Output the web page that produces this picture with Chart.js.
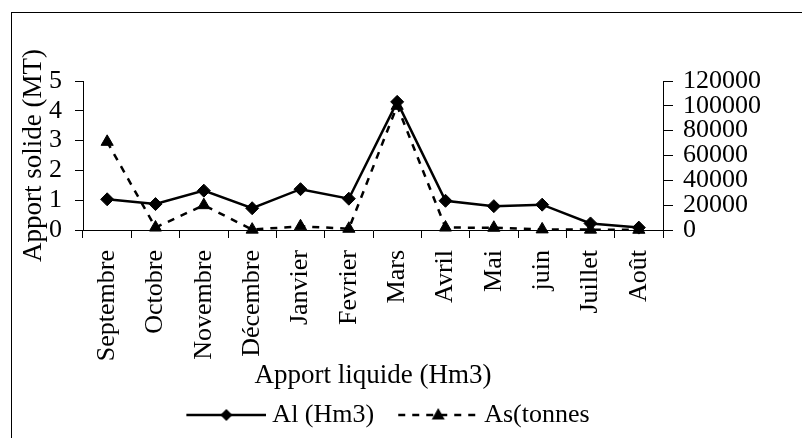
<!DOCTYPE html>
<html>
<head>
<meta charset="utf-8">
<script src="https://cdn.jsdelivr.net/npm/chart.js@4/dist/chart.umd.min.js"></script>
<style>
  html, body { margin: 0; padding: 0; background: #fff; overflow: hidden; }
  #wrap { position: relative; width: 802px; height: 438px; }
  #frame { position: absolute; left: 11px; top: 12px; width: 840px; height: 480px; border-left: 1px solid #000; border-top: 1px solid #000; pointer-events: none; }
</style>
</head>
<body>
<div id="wrap"><canvas id="myChart" width="802" height="438"></canvas><div id="frame"></div></div>
<script>
// months (hydrological year)
const months = ['Septembre', 'Octobre', 'Novembre', 'Décembre', 'Janvier', 'Fevrier',
  'Mars', 'Avril', 'Mai', 'juin', 'Juillet', 'Août'];
// Al (Hm3) - left axis
const alValues = [1.03, 0.87, 1.32, 0.73, 1.37, 1.05, 4.3, 0.98, 0.80, 0.85, 0.22, 0.08];
// As (tonnes) - right axis
const asValues = [71000, 2000, 20000, 300, 3000, 1000, 100000, 2000, 1800, 500, 300, 200];
const leftTicks = [0, 1, 2, 3, 4, 5];
const rightTicks = [0, 20000, 40000, 60000, 80000, 100000, 120000];

Chart.defaults.font.family = "'Liberation Serif', 'Times New Roman', serif";
Chart.defaults.color = '#000';

// legend swatch: line + marker drawn into a small canvas
function legendIcon(dash, marker) {
  const c = document.createElement('canvas');
  c.width = 101; c.height = 18;
  const g = c.getContext('2d');
  g.strokeStyle = '#000'; g.fillStyle = '#000'; g.lineWidth = 2.5;
  g.setLineDash(dash);
  g.beginPath(); g.moveTo(21, 9); g.lineTo(101, 9); g.stroke();
  g.setLineDash([]);
  const cx = 61, cy = 9;
  g.beginPath();
  if (marker === 'diamond') {
    g.moveTo(cx, cy - 6); g.lineTo(cx + 6, cy); g.lineTo(cx, cy + 6); g.lineTo(cx - 6, cy);
  } else {
    g.moveTo(cx, cy - 7); g.lineTo(cx + 6.5, cy + 4.5); g.lineTo(cx - 6.5, cy + 4.5);
  }
  g.closePath(); g.fill();
  return c;
}
const icons = [legendIcon([], 'diamond'), legendIcon([7, 7], 'triangle')];

const ctx = document.getElementById('myChart').getContext('2d');
const chart = new Chart(ctx, {
  type: 'line',
  data: {
    labels: months,
    datasets: [
      {
        label: 'Al (Hm3)',
        data: alValues,
        yAxisID: 'y',
        borderColor: '#000',
        backgroundColor: '#000',
        borderWidth: 2.5,
        pointStyle: 'rectRot',
        pointRadius: 6.5,
        pointBorderWidth: 1,
        tension: 0,
        clip: false
      },
      {
        label: 'As(tonnes',
        data: asValues,
        yAxisID: 'y1',
        borderColor: '#000',
        backgroundColor: '#000',
        borderWidth: 2.5,
        borderDash: [7, 7],
        pointStyle: 'triangle',
        pointRadius: 7,
        pointBorderWidth: 1,
        tension: 0,
        clip: false
      }
    ]
  },
  options: {
    responsive: false,
    animation: false,
    layout: { padding: { left: 0, right: 40, top: 81, bottom: 0 } },
    plugins: {
      tooltip: { enabled: false },
      legend: {
        position: 'bottom',
        labels: {
          usePointStyle: true,
          pointStyleWidth: 87,
          padding: 10,
          font: { size: 26 },
          color: '#000',
          generateLabels: (ch) => Chart.defaults.plugins.legend.labels.generateLabels(ch)
            .map((l, i) => Object.assign(l, { pointStyle: icons[i] }))
        }
      }
    },
    scales: {
      x: {
        offset: true,
        grid: { display: true, offset: true, drawOnChartArea: false, drawTicks: true, tickLength: 8, color: '#000' },
        border: { display: true, color: '#000', width: 1 },
        ticks: { autoSkip: false, minRotation: 90, maxRotation: 90, padding: 12, font: { size: 26 } },
        title: { display: true, text: 'Apport liquide (Hm3)', font: { size: 27 }, padding: { top: 0, bottom: 0 } },
        afterFit: (s) => { s.height = 162; }
      },
      y: {
        position: 'left',
        min: leftTicks[0],
        max: leftTicks[leftTicks.length - 1],
        ticks: { autoSkip: false, stepSize: leftTicks[1] - leftTicks[0], padding: 13, font: { size: 26 } },
        grid: { drawOnChartArea: false, drawTicks: true, tickLength: 8, color: '#000' },
        border: { display: true, color: '#000', width: 1 },
        title: { display: true, text: 'Apport solide (MT)', font: { size: 27 }, padding: { top: 18, bottom: 0 } },
        afterFit: (s) => { s.width = 83; }
      },
      y1: {
        position: 'right',
        min: rightTicks[0],
        max: rightTicks[rightTicks.length - 1],
        ticks: { autoSkip: false, stepSize: rightTicks[1] - rightTicks[0], padding: 10, font: { size: 26 }, callback: (v) => String(v) },
        grid: { drawOnChartArea: false, drawTicks: true, tickLength: 10, color: '#000' },
        border: { display: true, color: '#000', width: 1 },
        afterFit: (s) => { s.width = 99; }
      }
    }
  }
});
</script>
</body>
</html>
